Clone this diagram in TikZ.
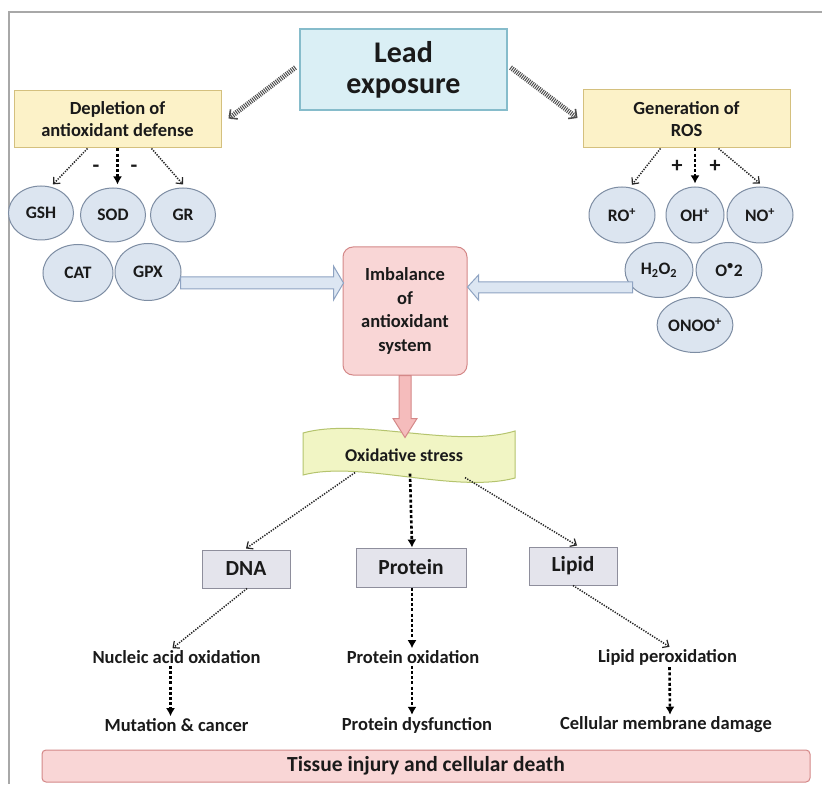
\documentclass[tikz,border=0pt]{standalone}
\usepackage{fontspec}
\setmainfont{Carlito}
\usetikzlibrary{arrows.meta,shapes.geometric,calc}
\definecolor{leadF}{HTML}{DAEFF5}
\definecolor{leadB}{HTML}{86BCCB}
\definecolor{yF}{HTML}{FCF2C8}
\definecolor{yB}{HTML}{D4C07E}
\definecolor{eF}{HTML}{DCE5F0}
\definecolor{eB}{HTML}{7D8DA3}
\definecolor{pF}{HTML}{F9D6D6}
\definecolor{pB}{HTML}{D48888}
\definecolor{oxF}{HTML}{F1F5C4}
\definecolor{oxB}{HTML}{B5C46E}
\definecolor{gF}{HTML}{E4E4EC}
\definecolor{gB}{HTML}{8E8E9C}
\definecolor{baF}{HTML}{DCE6F2}
\definecolor{baB}{HTML}{8EA3C2}
\definecolor{paF}{HTML}{F5BCBC}
\definecolor{frameC}{HTML}{A8A8A8}
\definecolor{txt}{HTML}{1A1A1A}
\tikzset{
  leadbox/.style={draw=leadB, fill=leadF, line width=1.2pt, inner sep=0pt, align=center,
    text=txt, font=\fontsize{30}{31}\selectfont\bfseries},
  ybox/.style={draw=yB, fill=yF, line width=1pt, inner sep=0pt, align=center,
    text=txt, font=\fontsize{18.5}{22}\selectfont\bfseries, minimum width=207pt},
  ell/.style={ellipse, draw=eB, fill=eF, line width=1pt, inner sep=0pt,
    text=txt, font=\fontsize{17.5}{20}\selectfont\bfseries},
  imbbox/.style={draw=pB, fill=pF, line width=1pt, rounded corners=10pt, inner sep=0pt,
    align=center, text=txt, font=\fontsize{18.5}{23.5}\selectfont\bfseries},
  graybox/.style={draw=gB, fill=gF, line width=1pt, inner sep=0pt, text=txt,
    font=\fontsize{21.5}{24}\selectfont\bfseries, minimum height=38pt},
  plain/.style={inner sep=0pt, text=txt, font=\fontsize{18.5}{21}\selectfont\bfseries},
  sign/.style={inner sep=0pt, text=txt, font=\fontsize{22}{24}\selectfont\bfseries},
  tissue/.style={draw=pB, fill=pF, line width=1pt, rounded corners=4pt, inner sep=0pt,
    text=txt, font=\fontsize{21.5}{24}\selectfont\bfseries, minimum width=768pt, minimum height=32pt},
  thinarr/.style={draw=black!85, line width=1.5pt, dash pattern=on 1.3pt off 1.3pt,
    -{Straight Barb[length=5pt,width=9pt,line width=1.2pt]}},
  thickarr/.style={draw=black, line width=2.6pt, dash pattern=on 3pt off 2.2pt,
    -{Latex[length=8pt,width=9pt]}},
  leadarr/.style={draw=black!70, line width=5pt, dash pattern=on 1pt off 1.1pt,
    -{Straight Barb[length=6pt,width=12pt,line width=1.6pt]}},
  bluearr/.style={draw=baB, fill=baF, line width=1pt, line join=miter},
  pinkarr/.style={draw=pB, fill=paF, line width=1pt, line join=miter},
}
\begin{document}
\begin{tikzpicture}[x=1pt,y=-1pt]
\useasboundingbox (0,0) rectangle (822,786);
\fill[white] (0,0) rectangle (822,786);
\draw[frameC, line width=1.5pt] (822,12) -- (9,12) -- (9,784);

% top boxes
\node[leadbox, minimum width=207pt, minimum height=81pt] (lead) at (403.5,69.5) {Lead\\exposure};
\node[ybox, minimum height=57pt] (dep) at (117.5,119.5) {Depletion of\\antioxidant defense};
\node[ybox, minimum height=58pt] (gen) at (686.5,119) {Generation of\\ROS};

% left ellipses
\node[ell, minimum width=65pt, minimum height=54pt] (gsh) at (41,213) {GSH};
\node[ell, minimum width=65pt, minimum height=54pt] (sod) at (113,215) {SOD};
\node[ell, minimum width=65pt, minimum height=54pt] (gr)  at (183,215) {GR};
\node[ell, minimum width=70pt, minimum height=57pt] (cat) at (78,273) {CAT};
\node[ell, minimum width=66pt, minimum height=57pt] (gpx) at (148,272) {GPX};

% right ellipses
\node[ell, minimum width=66pt, minimum height=56pt] (ro)  at (622,215) {RO\textsuperscript{+}};
\node[ell, minimum width=58pt, minimum height=56pt] (oh)  at (695,215) {OH\textsuperscript{+}};
\node[ell, minimum width=66pt, minimum height=56pt] (no)  at (760,215) {NO\textsuperscript{+}};
\node[ell, minimum width=68pt, minimum height=55pt] (hh)  at (659,270) {H\textsubscript{2}O\textsubscript{2}};
\node[ell, minimum width=66pt, minimum height=55pt] (oo)  at (729,270) {O\textsuperscript{•}2};
\node[ell, minimum width=66pt, minimum height=55pt] (onoo) at (695,325) {ONOO\textsuperscript{+}};

% signs
\node[sign] (m1) at (96,169) {-};
\node[sign] (m2) at (134,169) {-};
\node[sign] (p1) at (677,166) {+};
\node[sign] (p2) at (715,166) {+};

% imbalance
\node[imbbox, minimum width=124pt, minimum height=128pt] (imb) at (405,311) {Imbalance\\of\\antioxidant\\system};

% oxidative stress wave
\path[draw=oxB, fill=oxF, line width=1pt]
  (303,433) .. controls (360,417) and (455,449) .. (515,431)
  -- (515,478) .. controls (455,494) and (360,460) .. (303,475) -- cycle;
\node[plain, font=\fontsize{18}{20}\selectfont\bfseries] (ox) at (404,455) {Oxidative stress};

% gray boxes
\node[graybox, minimum width=88pt] (dna) at (246,569) {DNA};
\node[graybox, minimum width=110pt, minimum height=39pt] (prot) at (411,567.5) {Protein};
\node[graybox, minimum width=88pt] (lip) at (573,566) {Lipid};

% bottom texts
\node[plain] (nuc) at (176.5,657) {Nucleic acid oxidation};
\node[plain] (mut) at (176.5,725) {Mutation \& cancer};
\node[plain] (pox) at (413,657) {Protein oxidation};
\node[plain] (pdy) at (417,725) {Protein dysfunction};
\node[plain] (lpo) at (667.5,657) {Lipid peroxidation};
\node[plain] (cmd) at (666,725) {Cellular membrane damage};

\node[tissue] (tis) at (426,766) {Tissue injury and cellular death};

% block arrows
\draw[bluearr] (gpx.east) ++(-1,5) -- ++(153,0) -- ++(0,-11) -- ++(10,17) -- ++(-10,17)
  -- ++(0,-11) -- ++(-153,0) -- cycle;
\draw[bluearr] (imb.east) ++(0,-24) -- ++(11,-12) -- ++(0,7) -- ++(154,0) -- ++(0,11)
  -- ++(-154,0) -- ++(0,7) -- cycle;
\draw[pinkarr] (imb.south) ++(-6,0) -- ++(0,43) -- ++(-6,0) -- ++(12,19) -- ++(12,-19)
  -- ++(-6,0) -- ++(0,-43) -- cycle;

% lead arrows
\draw[leadarr] ([yshift=2pt]lead.west) ++(-4,0) -- ([xshift=7pt,yshift=1pt]dep.east);
\draw[leadarr] ([yshift=2pt]lead.east) ++(3,0) -- ([xshift=-5pt,yshift=1pt]gen.west);

% depletion arrows
\draw[thinarr] ([xshift=-30pt]dep.south) -- ([yshift=3pt]gsh.65);
\draw[thickarr] (dep.south) -- ([yshift=3pt]sod.north -| dep.south);
\draw[thinarr] ([xshift=34pt]dep.south) -- ([yshift=3pt]gr.north);

% generation arrows
\draw[thinarr] ([xshift=-26pt]gen.south) -- ([yshift=3pt]ro.70);
\draw[thickarr] (oh.north |- gen.south) -- ([yshift=3pt]oh.north);
\draw[thinarr] ([xshift=32pt]gen.south) -- ([yshift=3pt]no.north);

% oxidative arrows
\draw[thinarr] (ox.south) ++(-49,11) -- ([yshift=1pt]dna.north);
\draw[thickarr] (ox.south) ++(6,12) -- ([xshift=1pt]prot.north);
\draw[thinarr] (ox.south) ++(61,16) -- ([xshift=4pt,yshift=1pt]lip.north);

% bottom arrows
\draw[thinarr] ([xshift=1pt]dna.south) -- ([xshift=-4pt,yshift=2pt]nuc.north);
\draw[thickarr] ([xshift=1pt]prot.south) -- ([xshift=-1pt,yshift=2pt]pox.north);
\draw[thinarr] (lip.south) -- ([xshift=2pt,yshift=2pt]lpo.north);
\draw[thickarr] ([xshift=-6pt,yshift=-2pt]nuc.south) -- ([xshift=-6pt,yshift=2pt]mut.north);
\draw[thickarr] ([xshift=-1pt,yshift=-2pt]pox.south) -- ([xshift=-5pt,yshift=2pt]pdy.north);
\draw[thickarr] ([xshift=2pt,yshift=-2pt]lpo.south) -- ([xshift=4pt,yshift=2pt]cmd.north);
\end{tikzpicture}
\end{document}
